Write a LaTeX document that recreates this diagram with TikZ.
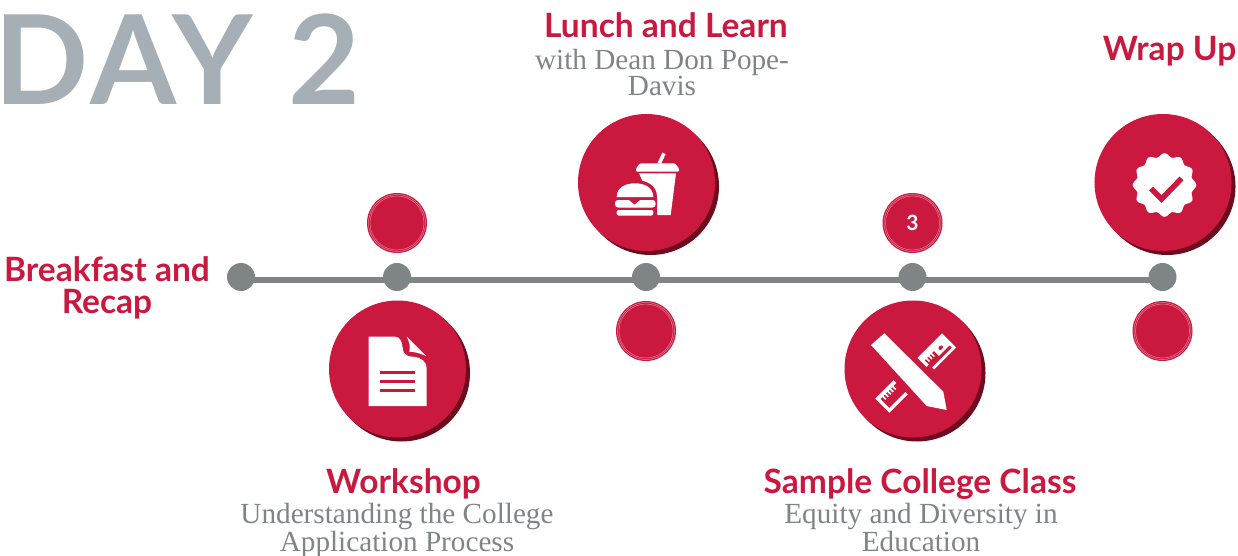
\documentclass[tikz,border=0pt]{standalone}
\usepackage{fontspec}
\setmainfont{Lato}
\newfontfamily\subfont{Liberation Serif}
\usetikzlibrary{positioning,shadows,backgrounds}
\definecolor{crimson}{HTML}{CB183F}
\definecolor{darkcrimson}{HTML}{6E0C1E}
\definecolor{linegray}{HTML}{7F8487}
\definecolor{titlegray}{HTML}{A5AFB5}
\definecolor{subgray}{HTML}{7F8487}
\tikzset{
  dot/.style={circle, fill=linegray, minimum size=28pt, inner sep=0pt, outer sep=0pt},
  badge/.style={circle, fill=crimson, minimum size=60pt, inner sep=0pt, outer sep=0pt, text=white, font=\fontsize{21}{24}\selectfont\bfseries},
  bigdisc/.style={circle, fill=crimson, minimum size=137pt, inner sep=0pt, outer sep=0pt,
    drop shadow={shadow xshift=4pt, shadow yshift=-4pt, opacity=1, fill=darkcrimson}},
  headline/.style={text=crimson, align=center, inner sep=0pt, font=\fontsize{33.5}{32}\selectfont\bfseries},
  subline/.style={text=subgray, align=center, inner sep=0pt, font=\fontsize{29.2}{25.5}\selectfont\subfont},
  ring/.style={draw=white!45!crimson, line width=0.5pt}
}
\begin{document}
\begin{tikzpicture}[x=1pt, y=-1pt]
\useasboundingbox (0,0) rectangle (1238,556);
\node[anchor=base west, inner sep=0pt, text=titlegray, font=\fontsize{124}{124}\selectfont\bfseries\addfontfeature{LetterSpace=4.1}] (daytitle) at (0,105) {\kern-6pt DAY 2};
% stops on the line
\node[dot] (d1) at (241,277) {};
\node[dot] (d2) at (397,277) {};
\node[dot] (d3) at (646,277) {};
\node[dot] (d4) at (912.5,277) {};
\node[dot] (d5) at (1162.5,277) {};
\begin{pgfonlayer}{background}
  \draw[linegray, line width=6pt] ([yshift=-3pt]d1.center) -- ([yshift=-3pt]d2.center);
  \draw[linegray, line width=6pt] ([yshift=-3pt]d2.center) -- ([yshift=-3pt]d3.center);
  \draw[linegray, line width=6pt] ([yshift=-3pt]d3.center) -- ([yshift=-3pt]d4.center);
  \draw[linegray, line width=6pt] ([yshift=-3pt]d4.center) -- ([yshift=-3pt]d5.center);
\end{pgfonlayer}
% small badges
\node[badge, above=10pt of d2] (b2) {};
\node[badge, below=10pt of d3] (b3) {};
\node[badge, above=10pt of d4] (b4) {3};
\node[badge, below=10pt of d5] (b5) {};
\foreach \b in {b2,b3,b4,b5} {
  \draw[ring] (\b.center) circle (27pt);
  \draw[ring] (\b.center) circle (28.5pt);
}
% big discs
\node[bigdisc, below=9.5pt of d2, xshift=0.5pt] (workshop) {};
\node[bigdisc, above=12pt of d3, xshift=0.5pt] (lunch) {};
\node[bigdisc, below=9.5pt of d4, xshift=0.5pt] (sample) {};
\node[bigdisc, above=12pt of d5, xshift=0.5pt] (wrap) {};
% document icon
\begin{scope}[shift={(workshop.center)}]
  \fill[white] (-29,-32.3) -- (-2.5,-32.3) .. controls (2,-32.3) and (4.5,-28) .. (5,-22) .. controls (5.5,-15) and (8.5,-12.5) .. (15.8,-12.3) .. controls (24,-11.5) and (29.2,-7) .. (29.2,-0.7) -- (29.2,37) -- (-29,37) -- cycle;
  \fill[white] (9.2,-32.3) -- (28.5,-13) .. controls (23,-15.5) and (17,-17.3) .. (11.8,-17.3) .. controls (13,-22) and (12,-27) .. (9.2,-32.3) -- cycle;
  \foreach \yy in {3.3,12,21}
    \fill[crimson] (-17.5,\yy-1.5) rectangle (17.5,\yy+1.5);
\end{scope}
% burger and cup icon
\begin{scope}[shift={(lunch.center)}]
  \draw[white, line width=3.6pt] (12.8,-19.2) -- (17.5,-29.2);
  \fill[white, rounded corners=1pt] (-6.5,-19.2) -- (28.5,-19.2) -- (32.5,-14) -- (32.5,-10.8) -- (-10.5,-10.8) -- (-10.5,-14) -- cycle;
  \fill[white] (-7.5,-9.2) -- (29.5,-9.2) -- (24.2,32.5) -- (11.2,32.5) -- cycle;
  \fill[crimson] (-34,14.5) .. controls (-34,3) and (-23,-2.5) .. (-11.5,-2.5) .. controls (0,-2.5) and (10.5,3) .. (10.5,14.5) -- (10.5,37) -- (-34,37) -- cycle;
  \fill[white] (-29.8,14.5) .. controls (-29.8,5) and (-21,0.8) .. (-11.5,0.8) .. controls (-2,0.8) and (6.8,5) .. (6.8,14.5) -- cycle;
  \fill[white, rounded corners=3pt] (-31.5,17.5) rectangle (9,25);
  \fill[crimson] (-18,17) -- (-6,17) -- (-12,22) -- cycle;
  \fill[white, rounded corners=2pt] (-29.8,27.5) rectangle (6.8,33);
\end{scope}
% pencil and ruler icon
\begin{scope}[shift={(sample.center)}]
  \begin{scope}[shift={(23.8,-16.4)}, rotate=45]
    \fill[white] (-17.3,-10) rectangle (17.3,10);
    \fill[crimson] (-18,3) rectangle (-14,11);
    \fill[crimson] (-14,-3) rectangle (-1,7);
    \fill[crimson] (-2,4) rectangle (14,7);
    \foreach \uu in {-11.5,-8,-4.5}
      \fill[white] (\uu-0.8,-3.5) rectangle (\uu+0.8,1);
    \fill[crimson] (6.2,-0.7) ellipse (2.6pt and 1.9pt);
  \end{scope}
  \begin{scope}[shift={(-21.5,27.5)}, rotate=45]
    \fill[white] (-13,-10) rectangle (13,10);
    \fill[crimson] (-9.5,-6) rectangle (14,6.5);
    \foreach \uu in {-6,-2.5,1,4.5,8}
      \fill[white] (\uu-0.8,-6.5) rectangle (\uu+0.8,-2);
  \end{scope}
  \fill[white] (-42,-24) -- (-28.7,-35.7) -- (30.3,22.7) -- (33.7,41) -- (13.7,37) -- cycle;
\end{scope}
% rosette icon
\begin{scope}[shift={(wrap.center)}, xshift=1.5pt, yshift=-2.5pt]
  \fill[white, smooth, samples=121, domain=0:360] plot ({(30+1.8*cos(12*\x))*cos(\x)}, {(30+1.8*cos(12*\x))*sin(\x)}) -- cycle;
  \draw[crimson, line width=5.5pt] (-13.5,3.5) -- (-3,14) -- (17,-6.5);
\end{scope}
% labels
\node[headline] (breakfast) at (107,287.5) {Breakfast and\\Recap};
\node[headline, anchor=base] (lunchhead) at (666,38) {Lunch and Learn};
\node[subline, anchor=base] (lunchsub) at (662,96) {with Dean Don Pope-\\Davis};
\node[headline, anchor=base] (wraphead) at (1169.5,61) {Wrap Up};
\node[headline, anchor=base] (workhead) at (403.5,493) {Workshop};
\node[subline, anchor=base] (worksub) at (397,551) {Understanding the College\\Application Process};
\node[headline, anchor=base] (samplehead) at (920,493) {Sample College Class};
\node[subline, anchor=base] (samplesub) at (921,551) {Equity and Diversity in\\Education};
\end{tikzpicture}
\end{document}
